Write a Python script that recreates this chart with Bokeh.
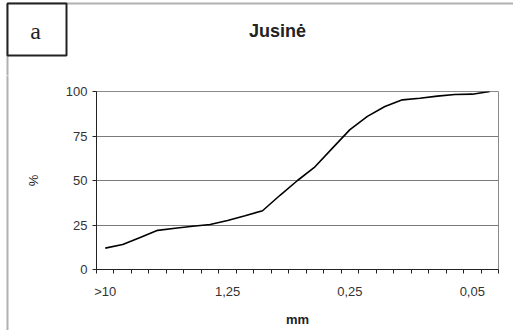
from bokeh.plotting import figure
from bokeh.models import FixedTicker, Range1d
from bokeh.layouts import column, row
from bokeh.core.properties import value
from bokeh.embed import file_html
from bokeh.resources import INLINE

# ---- data ----
n_categories = 23
category_index = list(range(n_categories))
tick_label_positions = [0, 7, 14, 21]
tick_labels = [">10", "1,25", "0,25", "0,05"]
percent = [12, 14, 18, 22, 23.2, 24.3, 25.3, 27.5, 30.2, 33, 41.7, 50,
           57.7, 68.2, 78.6, 86, 91.6, 95.3, 96.2, 97.4, 98.3, 98.5, 100]
y_ticks = [0, 25, 50, 75, 100]
title_text = "Jusinė"
panel_letter = "a"

# ---- layout (pixels) ----
W, H = 513, 330
TOP_H = 75            # header strip height
STRIP_W = 9           # left strip carrying the frame border line
BORDER_X, BORDER_Y = 7, 3
BORDER_COLOR = "#b0b0b0"

# header: letter box + title + top/left border
hdr = figure(width=W, height=TOP_H, output_backend="svg", toolbar_location=None,
             x_range=Range1d(0, W), y_range=Range1d(TOP_H, 0),
             x_axis_type=None, y_axis_type=None, min_border=0)
hdr.frame_align = False
hdr.outline_line_color = None
hdr.grid.visible = False
hdr.background_fill_color = "white"
hdr.border_fill_color = "white"
hdr.segment(x0=[BORDER_X, BORDER_X], y0=[BORDER_Y, BORDER_Y],
            x1=[BORDER_X, W + 5], y1=[TOP_H + 5, BORDER_Y],
            line_color=BORDER_COLOR, line_width=2)
hdr.quad(left=[7], right=[66], top=[3], bottom=[55], fill_color="white",
         line_color="#222222", line_width=2)
hdr.text(x=[35], y=[30], text=[panel_letter], text_align="center",
         text_baseline="middle", text_font=value("Liberation Serif"),
         text_font_size="24px", text_color="#222222")
hdr.text(x=[277], y=[30], text=[title_text], text_align="center",
         text_baseline="middle", text_font=value("Liberation Sans"),
         text_font_style="bold", text_font_size="18px", text_color="#222222")

# left strip with the border line continuing down
strip = figure(width=STRIP_W, height=H - TOP_H, output_backend="svg",
               toolbar_location=None, x_range=Range1d(0, STRIP_W),
               y_range=Range1d(0, H - TOP_H), x_axis_type=None, y_axis_type=None,
               min_border=0)
strip.frame_align = False
strip.outline_line_color = None
strip.grid.visible = False
strip.background_fill_color = "white"
strip.border_fill_color = "white"
strip.segment(x0=[BORDER_X], y0=[-5], x1=[BORDER_X], y1=[H], line_color=BORDER_COLOR,
              line_width=2)

# chart
CW, CH = W - STRIP_W, H - TOP_H
FL, FR, FT, FB = 96 - STRIP_W, 498 - STRIP_W, 91 - TOP_H, 269 - TOP_H
p = figure(width=CW, height=CH, output_backend="svg", toolbar_location=None,
           x_range=Range1d(-0.5, n_categories - 0.5), y_range=Range1d(0, 100),
           min_border_left=FL, min_border_right=CW - FR,
           min_border_top=FT, min_border_bottom=CH - FB)
p.frame_align = False
p.background_fill_color = "white"
p.border_fill_color = "white"
p.outline_line_color = "#8a8a8a"
p.outline_line_width = 1

p.line(category_index, percent, line_color="black", line_width=1.6)

xa = p.xaxis[0]
xa.ticker = FixedTicker(ticks=tick_label_positions,
                        minor_ticks=[i - 0.5 for i in range(n_categories + 1)])
xa.major_label_overrides = {k: v for k, v in zip(tick_label_positions, tick_labels)}
xa.major_tick_out = 0
xa.major_tick_in = 0
xa.minor_tick_out = 4
xa.minor_tick_in = 0
xa.minor_tick_line_color = "#222222"
xa.axis_line_color = "#222222"
xa.major_label_text_font = "Liberation Sans"
xa.major_label_text_font_size = "13px"
xa.major_label_text_color = "#333333"
xa.major_label_standoff = 10
xa.axis_label = "mm"
xa.axis_label_text_font = "Liberation Sans"
xa.axis_label_text_font_style = "bold"
xa.axis_label_text_font_size = "13px"
xa.axis_label_text_color = "#222222"
xa.axis_label_standoff = 10

ya = p.yaxis[0]
ya.ticker = FixedTicker(ticks=y_ticks, minor_ticks=[])
ya.major_tick_out = 4
ya.major_tick_in = 0
ya.major_tick_line_color = "#222222"
ya.axis_line_color = "#222222"
ya.major_label_text_font = "Liberation Sans"
ya.major_label_text_font_size = "13px"
ya.major_label_text_color = "#333333"
ya.major_label_standoff = 5
ya.axis_label = "%"
ya.axis_label_text_font = "Liberation Sans"
ya.axis_label_text_font_style = "normal"
ya.axis_label_text_font_size = "13px"
ya.axis_label_text_color = "#222222"
ya.axis_label_standoff = 22

p.xgrid.grid_line_color = None
p.ygrid.grid_line_color = "#7a7a7a"
p.ygrid.grid_line_width = 1

layout = column(hdr, row(strip, p, spacing=0), spacing=0)
open("out.html", "w").write(file_html(layout, INLINE))
